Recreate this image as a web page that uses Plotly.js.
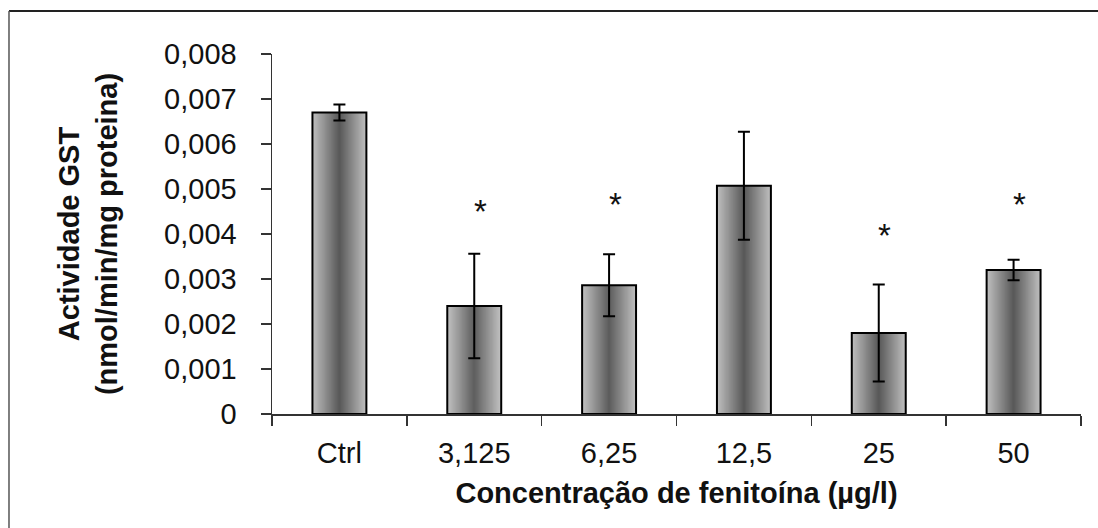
<!DOCTYPE html>
<html>
<head>
<meta charset="utf-8">
<script src="https://cdn.plot.ly/plotly-3.0.1.min.js"></script>
<style>
  html, body { margin: 0; padding: 0; background: #fff; }
  #chart { width: 1098px; height: 528px; }
</style>
</head>
<body>
<div id="chart"></div>
<script>
// ---- data ----
const categories = ['Ctrl', '3,125', '6,25', '12,5', '25', '50'];
const means      = [0.0067, 0.0024, 0.00286, 0.00507, 0.0018, 0.0032];
const errors     = [0.00018, 0.00116, 0.00069, 0.0012, 0.00108, 0.00023];
const starLabels = ['', '*', '*', '', '*', '*'];
const starY      = [null, 0.00458, 0.00474, null, 0.00405, 0.00474];
const yTickVals  = [0, 0.001, 0.002, 0.003, 0.004, 0.005, 0.006, 0.007, 0.008];
const yTickText  = ['0', '0,001', '0,002', '0,003', '0,004', '0,005', '0,006', '0,007', '0,008'];

// ---- style ----
const FONT = 'Liberation Sans, Arial, sans-serif';
const BAR_W = 0.40;
const N_STRIPS = 54;
const LIGHT = 192, DARK = 88;

const traces = [];
for (let i = 0; i < N_STRIPS; i++) {
  const w = BAR_W / N_STRIPS;
  const t = Math.abs(((i + 0.5) / N_STRIPS) * 2 - 1);
  const v = Math.round(DARK + (LIGHT - DARK) * t);
  const col = `rgb(${v},${v},${v})`;
  traces.push({
    type: 'bar', x: categories, y: means,
    width: w * 1.6, offset: -BAR_W / 2 + i * w,
    marker: { color: col, line: { width: 0 } },
    hoverinfo: 'skip', showlegend: false
  });
}
// outline + error bars
traces.push({
  type: 'bar', x: categories, y: means, width: BAR_W,
  marker: { color: 'rgba(0,0,0,0)', line: { width: 2, color: '#000' } },
  error_y: { type: 'data', array: errors, visible: true, color: '#000', thickness: 2, width: 6 },
  showlegend: false, hoverinfo: 'x+y'
});

const annotations = [];
categories.forEach((c, i) => {
  if (starLabels[i]) {
    annotations.push({
      x: i, y: starY[i], xref: 'x', yref: 'y', text: starLabels[i],
      showarrow: false, xshift: 6, yshift: -4,
      font: { family: FONT, size: 33, color: '#111' }
    });
  }
});

const layout = {
  width: 1098, height: 528,
  margin: { l: 272, r: 17, t: 54, b: 114 },
  paper_bgcolor: '#fff', plot_bgcolor: '#fff',
  barmode: 'overlay',
  showlegend: false,
  font: { family: FONT, color: '#111' },
  xaxis: {
    type: 'category', categoryorder: 'array', categoryarray: categories,
    range: [-0.5, categories.length - 0.5],
    showline: true, linecolor: '#333', linewidth: 1.5,
    ticks: 'outside', tickson: 'boundaries', ticklen: 10, tickcolor: '#333', tickwidth: 1.5,
    tickfont: { family: FONT, size: 29, color: '#111' },
    tickangle: 0,
    ticklabelstandoff: 13,
    showgrid: false, zeroline: false,
    title: { text: '<b>Concentração de fenitoína (µg/l)</b>', font: { family: FONT, size: 29, color: '#111' }, standoff: 14 }
  },
  yaxis: {
    range: [0, 0.008],
    tickvals: yTickVals, ticktext: yTickText,
    showline: true, linecolor: '#333', linewidth: 1.5,
    ticks: 'outside', ticklen: 10, tickcolor: '#333', tickwidth: 1.5,
    tickfont: { family: FONT, size: 29, color: '#111' },
    ticklabelstandoff: 18,
    showgrid: false, zeroline: false,
    title: { text: '<b>Actividade GST<br>(nmol/min/mg proteina)</b>', font: { family: FONT, size: 29, color: '#111' }, standoff: 38 }
  },
  annotations: annotations,
  shapes: [
    { type: 'line', xref: 'paper', yref: 'paper', x0: -0.3251, x1: 1.05, y0: 1.1194, y1: 1.1194, line: { color: '#222', width: 2 } },
    { type: 'line', xref: 'paper', yref: 'paper', x0: -0.3251, x1: -0.3251, y0: -0.35, y1: 1.1194, line: { color: '#555', width: 1.5 } }
  ]
};

Plotly.newPlot('chart', traces, layout, { displayModeBar: false, staticPlot: true });
</script>
</body>
</html>
